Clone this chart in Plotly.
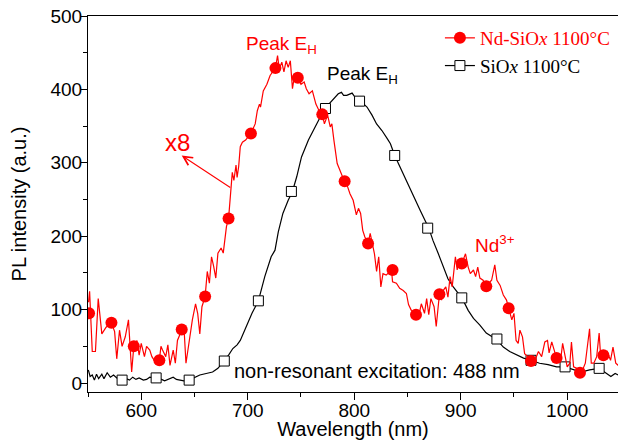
import plotly.graph_objects as go

# ---- data ----
red_x = [550.5, 551.5, 554, 557, 559.6, 563, 567, 572, 575, 577, 579.6, 582, 585, 588, 591, 593, 596, 598,
         600, 603, 605, 608, 610, 614, 617, 618.5, 620, 623, 625, 627, 630, 632, 634, 638, 640, 642, 645,
         648, 651, 653, 655, 657, 660, 662, 664, 666, 668, 670, 672, 675, 677, 680, 682, 684.5, 685.5, 687,
         689, 690, 691.5, 693, 695, 698, 703, 707, 709, 711, 712, 714.6, 718, 721, 726, 728, 729.6, 732,
         734, 736, 738, 740, 742, 744, 747, 750, 753, 755, 757.6, 760.7, 764, 767, 770, 772, 775, 777.5,
         779, 781, 784, 786, 789, 792, 796, 799, 802, 804, 806, 808, 810, 813, 815, 817, 819, 821, 823,
         825, 827, 830, 835, 836, 839.6, 842.7, 846, 849, 851, 853.6, 858, 861.7, 863, 866, 868, 870, 872,
         875, 877, 880, 882, 884, 886, 888, 890, 892, 893.6, 895, 896.7, 898, 901, 904.5, 907, 909, 912,
         914, 916, 918, 921, 924, 927.6, 929, 932, 934, 937, 940, 943, 945, 948, 950, 952, 954, 955.6,
         958, 960, 963, 966, 969.7, 973, 976, 979, 981.5, 983, 985.5, 987, 990, 991.6, 993.8, 995.7, 998,
         1000, 1002.5, 1004, 1006, 1009, 1012, 1015, 1017, 1019, 1021, 1022.6, 1025, 1027.7, 1030, 1031.5,
         1034, 1037.5, 1040.7, 1043, 1045.6, 1048]
red_y = [110, 125, 43, 43, 115, 67, 76, 82, 70, 33, 72, 50, 63, 86, 15, 50, 58, 38,
         54, 36, 50, 45, 36, 27, 31, 50, 45, 36, 52, 24, 45, 27, 58, 73, 79, 27, 58,
         86, 108, 95, 67, 104, 118, 152, 136, 172, 159, 143, 177, 184, 177, 213, 224, 263, 287, 276,
         297, 280, 295, 322, 328, 331, 340, 353, 371, 380, 376, 398, 407, 419, 429, 446, 428, 437,
         424, 439, 430, 439, 401, 419, 416, 407, 410, 401, 394, 398, 380, 371, 366, 353, 365, 349,
         353, 330, 299, 292, 281, 275, 258, 249, 229, 238, 231, 208, 199, 190, 204, 190, 176, 152, 172,
         131, 149, 147, 154, 138, 136, 129, 126, 122, 107, 99, 93, 99, 108, 95, 115, 93, 115,
         104, 77, 121, 113, 127, 131, 117, 145, 131, 149, 172, 154, 167, 163, 176, 158, 149, 154,
         145, 158, 143, 140, 131, 138, 140, 161, 140, 133, 120, 113, 101, 86, 95, 58, 54, 72,
         63, 40, 36, 29, 31, 43, 36, 56, 58, 41, 56, 49, 34, 38, 31, 54, 36,
         22, 27, 56, 22, 20, 15, 20, 27, 54, 74, 27, 27, 36, 68, 34,
         38, 43, 31, 49, 27, 24]

red_mx = [551, 572, 593, 617, 638, 660, 682, 703, 726, 747, 770, 791, 813, 836, 858, 880, 901, 924,
          945, 966, 990, 1012, 1034]
red_my = [95, 82, 50, 31, 73, 118, 224, 340, 429, 416, 366, 275, 190, 154, 93, 121, 163, 132,
          102, 30, 34, 14, 38]

blk_x = [550.3, 552, 554, 556, 558, 560, 563, 565, 568, 571, 574, 577, 581, 586, 589, 592, 595, 598,
         602, 605, 608, 613, 619, 622, 626, 630, 633, 636, 640, 645, 650, 655, 661, 667, 672, 678, 682,
         686, 690, 693, 696, 699, 704, 710, 716, 722, 725.6, 728.7, 733, 738, 742, 746, 750.5, 757, 763,
         768, 773, 779, 782, 785, 788, 790, 793, 796, 798, 801, 806, 812, 816.7, 821, 826, 831, 834,
         838, 843, 849.6, 856, 862, 870, 874, 879, 883.6, 888, 893, 898, 901.5, 907, 912, 918, 924,
         934, 940, 946, 952.5, 959, 966, 974, 982, 990, 998, 1006, 1013, 1021, 1030, 1037, 1041,
         1045, 1048]
blk_y = [18, 9, 11, 4, 12, 6, 12, 6, 14, 8, 11, 7, 5, 6, 4, 8, 5, 7,
         4, 5, 8, 7, 5, 3, 5, 8, 5, 4, 3, 4, 7, 11, 13, 15, 20, 30, 38,
         47, 52, 58, 68, 79, 95, 112, 145, 172, 181, 206, 231, 249, 261, 281, 308, 331, 349,
         362, 375, 385, 389, 394, 396, 392, 392, 394, 395, 389, 384, 376, 365, 353, 344, 333, 326,
         310, 294, 274, 253, 235, 211, 194, 176, 158, 142, 131, 122, 115, 99, 88, 79, 68,
         59, 49, 43, 38, 34, 31, 27, 25, 22, 22, 18, 15, 18, 20, 13, 9,
         13, 11]

blk_mx = [582, 614, 645, 678, 710, 741, 773, 805, 838, 869, 901, 934, 966, 998, 1030]
blk_my = [4, 7, 4, 30, 112, 261, 374, 384, 310, 211, 116, 60, 31, 22, 20]

x_ticks = [600, 700, 800, 900, 1000]
y_ticks = [0, 100, 200, 300, 400, 500]

RED = "#FF0000"
SANS = "Liberation Sans, Arial, sans-serif"
SERIF = "Liberation Serif, Times New Roman, serif"

fig = go.Figure()

# black series
fig.add_trace(go.Scatter(x=blk_x, y=blk_y, mode="lines", line=dict(color="black", width=1.2),
                         showlegend=False, hoverinfo="skip"))
fig.add_trace(go.Scatter(x=blk_mx, y=blk_my, mode="markers", showlegend=False,
                         marker=dict(symbol="square", size=10, color="white",
                                     line=dict(color="black", width=1))))
# red series
fig.add_trace(go.Scatter(x=red_x, y=red_y, mode="lines", line=dict(color=RED, width=1.2),
                         showlegend=False, hoverinfo="skip"))
fig.add_trace(go.Scatter(x=red_mx, y=red_my, mode="markers", showlegend=False,
                         marker=dict(symbol="circle", size=12, color=RED)))

# legend entries
fig.add_trace(go.Scatter(x=[None], y=[None], mode="lines+markers",
                         name="<span style='color:#FF0000'>Nd-SiO<i>x</i> 1100°C</span>",
                         line=dict(color=RED, width=1.2),
                         marker=dict(symbol="circle", size=12, color=RED)))
fig.add_trace(go.Scatter(x=[None], y=[None], mode="lines+markers",
                         name="SiO<i>x</i> 1100°C",
                         line=dict(color="black", width=1.2),
                         marker=dict(symbol="square", size=10, color="white",
                                     line=dict(color="black", width=1))))

annotations = [
    dict(x=732, y=460, text="Peak E<sub>H</sub>", showarrow=False,
         font=dict(family=SANS, size=19, color=RED)),
    dict(x=808, y=419, text="Peak E<sub>H</sub>", showarrow=False,
         font=dict(family=SANS, size=19, color="black")),
    dict(x=634.5, y=328, text="x8", showarrow=False,
         font=dict(family=SANS, size=24, color=RED)),
    dict(x=932, y=189, text="Nd<sup>3+</sup>", showarrow=False,
         font=dict(family=SANS, size=19, color=RED)),
    dict(x=821, y=16, text="non-resonant excitation: 488 nm", showarrow=False,
         font=dict(family=SANS, size=20, color="black")),
    dict(x=638, y=310, ax=685, ay=265, axref="x", ayref="y", xref="x", yref="y",
         text="", showarrow=True, arrowhead=5, arrowsize=1.6, arrowwidth=1.1, arrowcolor=RED),
]

fig.update_layout(
    width=618, height=440,
    margin=dict(l=88, r=0, t=16, b=48, autoexpand=False),
    paper_bgcolor="white", plot_bgcolor="white",
    font=dict(family=SANS, size=19, color="black"),
    annotations=annotations,
    legend=dict(x=0.664, y=0.992, xanchor="left", yanchor="top",
                font=dict(family=SERIF, size=19, color="black"),
                bgcolor="rgba(0,0,0,0)", tracegroupgap=0),
    xaxis=dict(range=[550, 1047.7], tickvals=x_ticks, ticks="outside", ticklen=7, tickwidth=1.2,
               tickcolor="black", showline=True, linecolor="black", linewidth=1.2, mirror=True,
               showgrid=False, zeroline=False, automargin=False, ticklabelstandoff=-6,
               minor=dict(dtick=50, tick0=550, ticks="outside", ticklen=4, tickcolor="black", tickwidth=1.2),
               title=dict(text="Wavelength (nm)", font=dict(family=SANS, size=20), standoff=0),
               tickfont=dict(family=SANS, size=19)),
    yaxis=dict(range=[-12.2, 500], tickvals=y_ticks, ticks="outside", ticklen=6, tickwidth=1.2,
               tickcolor="black", showline=True, linecolor="black", linewidth=1.2, mirror=True,
               showgrid=False, zeroline=False, automargin=False, ticklabelstandoff=-5,
               minor=dict(dtick=50, tick0=0, ticks="outside", ticklen=4, tickcolor="black", tickwidth=1.2),
               title=dict(text="PL intensity (a.u.)", font=dict(family=SANS, size=20), standoff=18),
               tickfont=dict(family=SANS, size=19)),
)

# remove the default 8px page margin so the figure fills the window exactly
fig.write_html("out.html", config={"displayModeBar": False},
               post_script="document.body.style.margin='0';")
